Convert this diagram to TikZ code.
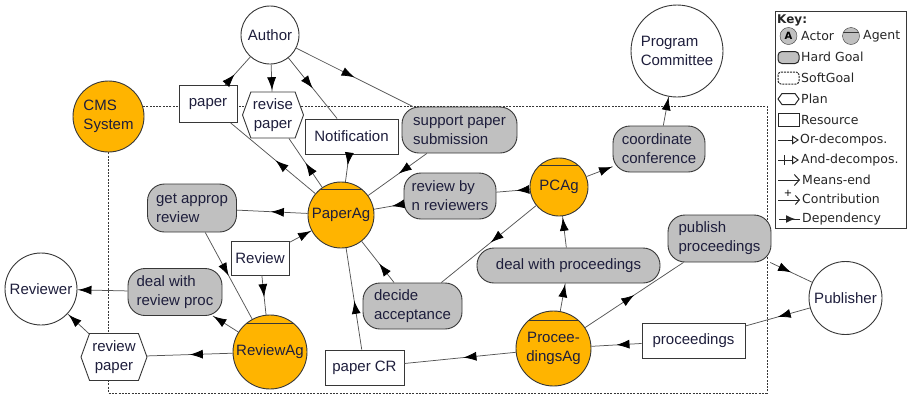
\documentclass[tikz,border=0pt]{standalone}
\usepackage{fontspec}
\setmainfont{Liberation Sans}
\newfontfamily\keyfont{DejaVu Sans}
\usetikzlibrary{arrows.meta,shapes.symbols,decorations.markings,calc,backgrounds}
\definecolor{agentorange}{RGB}{255,180,0}
\definecolor{goalgray}{RGB}{192,192,192}
\definecolor{edgegray}{RGB}{85,85,85}
\definecolor{inkblue}{RGB}{30,30,60}
\definecolor{rim}{RGB}{55,55,55}
\begin{document}
\begin{tikzpicture}[x=1pt,y=-1pt,
  font=\fontsize{15}{19}\selectfont,
  base/.style={draw=rim, line width=0.9pt, inner sep=2pt, text=inkblue},
  actorc/.style={base, circle, fill=white, inner sep=0pt, align=left},
  agentc/.style={base, circle, fill=agentorange, inner sep=0pt, align=center,
    path picture={\draw[rim, line width=0.9pt]
      ($(path picture bounding box.north west)!0.12!(path picture bounding box.south west)$) --
      ($(path picture bounding box.north east)!0.12!(path picture bounding box.south east)$);}},
  goal/.style={base, rectangle, rounded corners=17pt, fill=goalgray, align=left},
  res/.style={base, rectangle, fill=white},
  plan/.style={base, signal, signal to=west and east, signal pointer angle=140,
    fill=white, align=center},
  dep/.style={edgegray, line width=0.75pt, postaction={decorate},
    decoration={markings, mark=at position #1 with
      {\arrow[black]{Latex[length=13pt,width=9pt]}}}},
  dep/.default=0.5,
  keytext/.style={anchor=west, inner sep=0pt, text=black!85,
    font=\keyfont\fontsize{12.5}{14}\selectfont},
  keyline/.style={black!85, line width=1pt}
]
\useasboundingbox (0,0) rectangle (912,397);

% actors outside the system
\node[actorc, minimum size=58pt] (author) at (270,35) {Author};
\node[actorc, minimum size=92pt] (pc) at (677,51) {Program\\Committee};
\node[actorc, minimum size=72pt] (reviewer) at (41,289) {Reviewer};
\node[actorc, minimum size=73pt] (publisher) at (845.5,298) {Publisher};

% the conference management system and its agents
\node[base, circle, fill=agentorange, inner sep=0pt, minimum size=71pt, align=left]
  (cms) at (108.5,116.5) {CMS\\System};
\node[agentc, minimum size=58pt] (pcag) at (559,187) {PCAg};
\node[agentc, minimum size=66pt] (paperag) at (341,215) {PaperAg};
\node[agentc, minimum size=74pt] (reviewag) at (270,352) {ReviewAg};
\node[agentc, minimum size=75pt] (procag) at (553.5,348.5) {Procee-\\dingsAg};

% dependums: goals, resources and plans
\node[res, minimum width=58pt, minimum height=37pt] (paper) at (208,104) {paper};
\node[plan, minimum width=61pt, minimum height=46pt] (revise) at (273,115) {revise\\paper};
\node[res, minimum width=93pt, minimum height=35pt] (notif) at (351.5,136.5) {Notification};
\node[goal, minimum width=115pt, minimum height=46pt] (support) at (459.5,130) {support paper\\submission};
\node[goal, minimum width=92pt, minimum height=46pt] (coord) at (659,149) {coordinate\\conference};
\node[goal, minimum width=92pt, minimum height=46pt] (revby) at (450,196) {review by\\n reviewers};
\node[goal, minimum width=89pt, minimum height=48pt] (approp) at (192,208) {get approp\\review};
\node[res, minimum width=58pt, minimum height=34pt] (review) at (260,258) {Review};
\node[goal, minimum width=94pt, minimum height=47pt] (dealrev) at (175,292) {deal with\\review proc};
\node[plan, minimum width=66pt, minimum height=47pt] (revpaper) at (114,357) {review\\paper};
\node[goal, minimum width=99pt, minimum height=46pt] (decide) at (412.5,306) {decide\\acceptance};
\node[res, minimum width=79pt, minimum height=35pt] (papercr) at (364.5,367.5) {paper CR};
\node[goal, minimum width=183pt, minimum height=35pt] (dealproc) at (568.5,265.5) {deal with proceedings};
\node[goal, minimum width=103pt, minimum height=47pt] (publish) at (719.5,238.5) {publish\\proceedings};
\node[res, minimum width=103pt, minimum height=35pt] (procs) at (693.5,340.5) {proceedings};

% system boundary
\begin{scope}[on background layer]
  \draw[rim, line width=0.8pt, dash pattern=on 2pt off 1.3pt] (108.5,106) rectangle (767,393);
\end{scope}

% dependency links
\draw[dep=0.38] (paper) -- (author);
\draw[dep=0.95] (author) -- (revise);
\draw[dep=0.5] (author) -- (notif);
\draw[dep=0.5] (author) -- (support);
\draw[dep=0.47] (paperag) -- (paper);
\draw[dep=0.5] (paperag) -- (revise);
\draw[dep=0.4] (notif) -- (paperag);
\draw[dep=0.48] (support) -- (paperag);
\draw[dep=0.52] (paperag) -- (approp);
\draw[dep=0.5] (approp) -- (reviewag);
\draw[dep=0.98] (review) -- (paperag);
\draw[dep=0.55] (review) -- (reviewag);
\draw[dep=0.4] (pcag) -- (revby);
\draw[dep=0.4] (revby) -- (paperag);
\draw[dep=0.98] (pcag) -- (coord);
\draw[dep=0.98] (coord) -- (pc);
\draw[dep=0.48] (pcag) -- (decide);
\draw[dep=0.46] (decide) -- (paperag);
\draw[dep=0.47] (procag) -- (papercr);
\draw[dep=0.48] (papercr) -- (paperag);
\draw[dep=0.95] (dealproc) -- (pcag);
\draw[dep=0.97] (procag) -- (dealproc);
\draw[dep=0.5] (procag) -- (publish);
\draw[dep=0.5] (publish) -- (publisher);
\draw[dep=0.5] (publisher) -- (procs);
\draw[dep=0.5] (procs) -- (procag);
\draw[dep=0.98] (reviewag) -- (dealrev);
\draw[dep=0.98] (dealrev) -- (reviewer);
\draw[dep=0.5] (reviewag) -- (revpaper);
\draw[dep=0.95] (revpaper) -- (reviewer);

% key
\draw[rim, line width=0.9pt] (775,11) rectangle (906,228);
\node[keytext, font=\keyfont\bfseries\fontsize{12}{14}\selectfont] (khead) at (777,20) {Key:};
\node[circle, draw=rim, fill=goalgray, minimum size=17pt, inner sep=0pt,
  font=\keyfont\bfseries\fontsize{10}{10}\selectfont] (kactor) at (788.5,36) {A};
\node[keytext] (tactor) at (801,36) {Actor};
\node[circle, draw=rim, fill=goalgray, minimum size=17pt, inner sep=0pt,
  path picture={\draw[rim] ($(path picture bounding box.north west)!0.3!(path picture bounding box.south west)$) --
    ($(path picture bounding box.north east)!0.3!(path picture bounding box.south east)$);}] (kagent) at (851,36) {};
\node[keytext] (tagent) at (863,36) {Agent};
\draw[keyline, fill=goalgray, rounded corners=4pt] (778,51.5) rectangle (799,63.5);
\node[keytext] (thard) at (801,57) {Hard Goal};
\draw[keyline, dash pattern=on 2pt off 1pt, rounded corners=3pt] (778,72) rectangle (799,84);
\node[keytext] (tsoft) at (801,78) {SoftGoal};
\draw[keyline, fill=white] (778,99) -- (782,93.5) -- (795,93.5) -- (799,99) -- (795,104.5) -- (782,104.5) -- cycle;
\node[keytext] (tplan) at (801,99) {Plan};
\draw[keyline, fill=white] (778,113.5) rectangle (799,126);
\node[keytext] (tres) at (801,120) {Resource};
\draw[keyline, -{Triangle[open,length=7pt,width=9pt]}] (778,140) -- (799,140);
\node[keytext] (tor) at (800,140) {Or-decompos.};
\draw[keyline, -{Triangle[open,length=7pt,width=9pt]}] (778,160) -- (799,160);
\draw[keyline] (784,155) -- (784,165);
\node[keytext] (tand) at (801,160) {And-decompos.};
\draw[keyline, -{Straight Barb[length=5pt,width=11pt]}] (778,180) -- (800,180);
\node[keytext] (tmeans) at (802,180) {Means-end};
\draw[keyline, -{Straight Barb[length=4pt,width=9pt]}] (778,200) -- (800,200);
\node[inner sep=0pt, font=\keyfont\fontsize{10}{10}\selectfont] (kplus) at (788,193) {+};
\node[keytext] (tcontr) at (802,199) {Contribution};
\draw[keyline] (779,219) -- (800,219);
\draw[keyline, -{Latex[length=9pt,width=8pt]}] (783,219) -- (795,219);
\node[keytext] (tdep) at (802,219) {Dependency};
\end{tikzpicture}
\end{document}
